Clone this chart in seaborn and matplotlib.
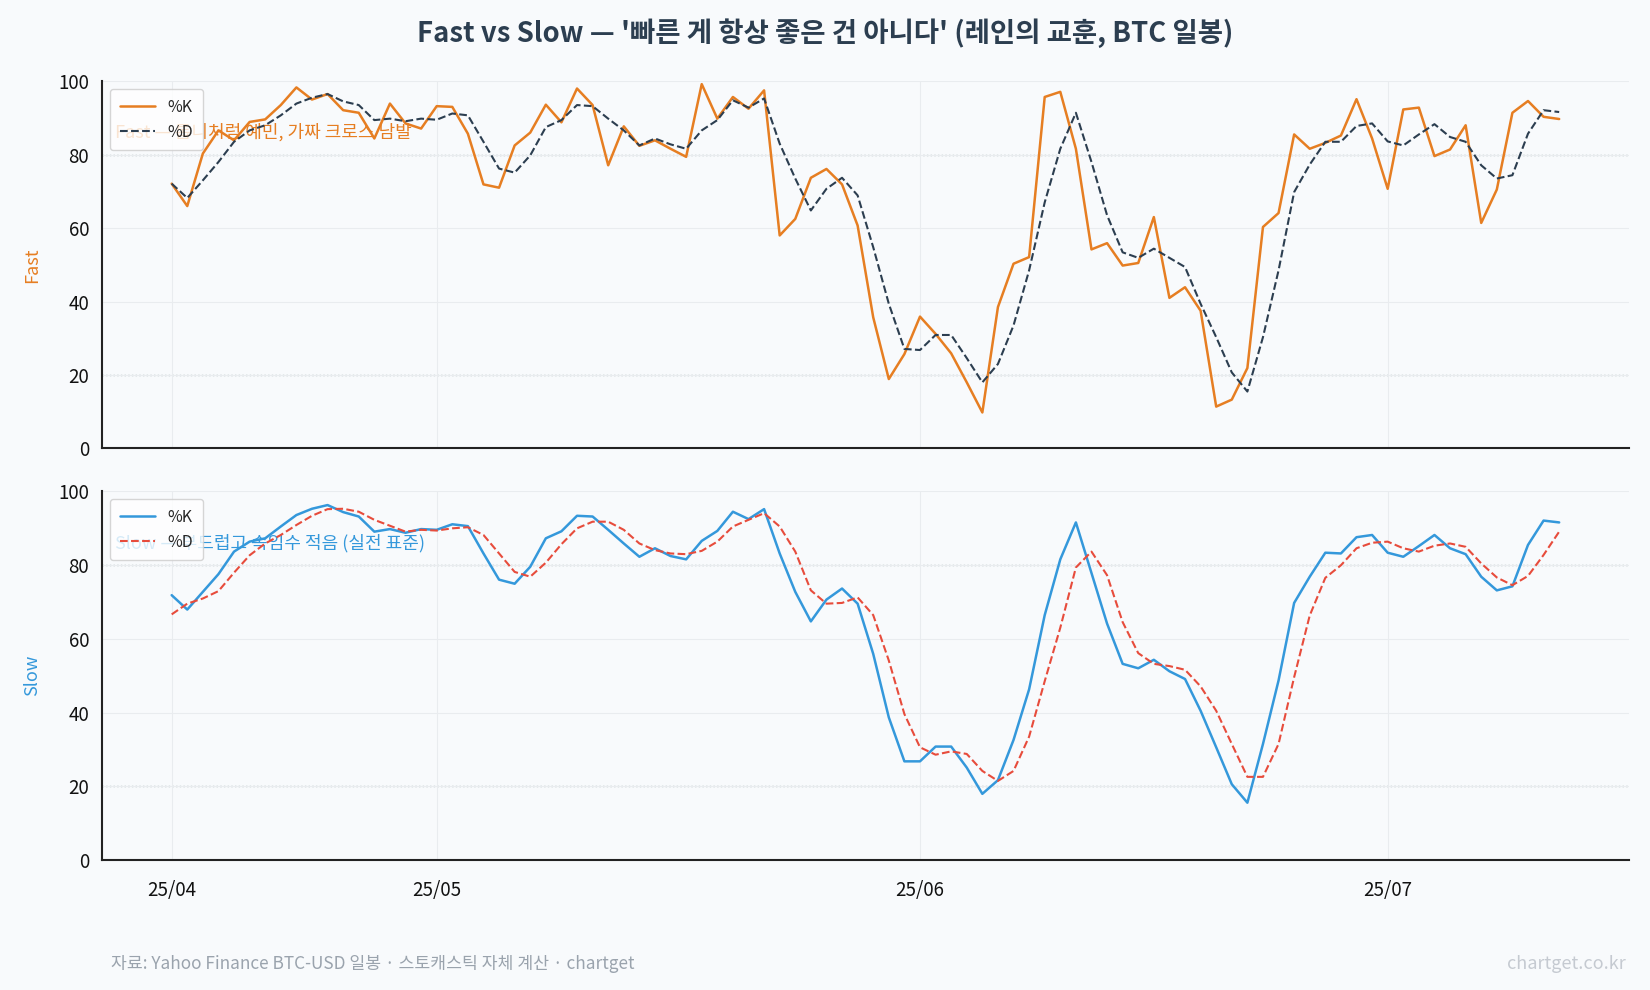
import numpy as np
import pandas as pd
import matplotlib
matplotlib.use("Agg")
import matplotlib.pyplot as plt
import matplotlib.dates as mdates
import seaborn as sns

# ---- data ----
start_date = "2025-04-14"
n_days = 90

fast_k = [72.1, 66.0, 80.3, 86.6, 83.9, 88.9, 89.6, 93.5, 98.3, 95.0,
          96.5, 92.1, 91.4, 84.4, 93.9, 88.5, 87.1, 93.2, 93.0, 85.7,
          71.9, 71.0, 82.5, 86.0, 93.6, 88.8, 98.0, 93.5, 77.1, 87.7,
          82.4, 83.9, 81.6, 79.4, 99.2, 89.8, 95.7, 92.5, 97.5, 58.0,
          62.5, 73.7, 76.1, 71.9, 60.7, 35.7, 18.9, 25.7, 35.9, 31.2,
          25.9, 18.0, 9.8, 38.5, 50.3, 52.1, 95.7, 97.1, 81.6, 54.2,
          55.9, 49.8, 50.5, 63.0, 41.0, 43.9, 37.5, 11.4, 13.3, 21.9,
          60.3, 64.1, 85.5, 81.6, 83.2, 85.2, 95.1, 84.4, 70.7, 92.3,
          92.8, 79.6, 81.4, 88.0, 61.4, 70.5, 91.4, 94.6, 90.3, 89.7]
fast_d = [72.1, 68.2, 73.0, 78.0, 83.5, 86.6, 88.0, 90.7, 93.9, 95.5,
          96.5, 94.5, 93.5, 89.4, 89.8, 89.1, 89.8, 89.5, 91.2, 90.7,
          83.5, 76.2, 75.1, 79.8, 87.5, 89.4, 93.5, 93.2, 89.8, 86.6,
          82.5, 84.4, 82.8, 81.6, 86.6, 89.4, 94.8, 92.8, 95.3, 83.0,
          73.5, 64.8, 70.7, 73.7, 68.9, 54.8, 39.4, 27.1, 26.8, 30.9,
          30.9, 24.6, 18.0, 23.0, 33.5, 48.5, 67.0, 81.6, 91.4, 78.0,
          63.5, 53.4, 51.9, 54.4, 51.9, 49.4, 39.4, 30.3, 20.7, 15.5,
          30.3, 48.5, 69.8, 77.3, 83.5, 83.5, 87.8, 88.5, 83.6, 82.5,
          85.5, 88.3, 84.8, 83.5, 77.1, 73.5, 74.4, 85.7, 92.1, 91.6]
slow_k = [71.8, 67.9, 72.7, 77.5, 83.6, 86.3, 87.2, 90.4, 93.5, 95.2,
          96.2, 94.3, 93.1, 89.0, 89.7, 88.7, 89.7, 89.5, 91.0, 90.5,
          83.1, 76.0, 74.9, 79.5, 87.2, 89.1, 93.3, 93.1, 89.5, 85.8,
          82.2, 84.5, 82.4, 81.5, 86.5, 89.2, 94.4, 92.4, 95.1, 83.1,
          72.7, 64.7, 70.6, 73.6, 69.5, 55.9, 38.7, 26.8, 26.8, 30.8,
          30.8, 25.1, 18.0, 21.7, 32.6, 46.3, 66.4, 81.5, 91.5, 77.8,
          64.1, 53.2, 52.0, 54.3, 51.2, 49.1, 40.5, 30.6, 20.6, 15.6,
          31.5, 48.7, 69.7, 76.8, 83.3, 83.1, 87.5, 88.1, 83.3, 82.2,
          85.1, 88.1, 84.5, 82.9, 76.8, 73.1, 74.2, 85.4, 92.0, 91.5]
slow_d = [66.6, 69.5, 70.9, 72.9, 77.9, 82.6, 85.8, 88.1, 90.8, 93.3,
          95.1, 95.2, 94.4, 92.2, 90.6, 89.0, 89.5, 89.3, 89.9, 90.2,
          88.1, 83.1, 78.1, 76.8, 80.6, 85.6, 89.9, 91.7, 91.7, 89.5,
          85.8, 84.0, 83.1, 82.9, 83.8, 86.3, 90.4, 92.2, 94.0, 90.4,
          83.6, 73.1, 69.5, 69.7, 71.2, 66.4, 54.1, 39.6, 30.6, 28.6,
          29.5, 28.8, 24.2, 21.5, 24.2, 33.5, 48.5, 63.0, 79.3, 83.6,
          77.2, 64.5, 56.1, 53.2, 52.6, 51.6, 47.1, 40.5, 31.5, 22.6,
          22.6, 31.5, 49.6, 66.3, 76.5, 79.9, 84.5, 86.0, 86.3, 84.5,
          83.6, 85.2, 85.8, 84.9, 80.4, 76.6, 74.5, 77.0, 82.7, 89.0]

tick_dates = ["2025-04-14", "2025-05-01", "2025-06-01", "2025-07-01"]

title = "Fast vs Slow — '빠른 게 항상 좋은 건 아니다' (레인의 교훈, BTC 일봉)"
fast_note = "Fast — 톱니처럼 예민, 가짜 크로스 남발"
slow_note = "Slow — 부드럽고 속임수 적음 (실전 표준)"
source_text = "자료: Yahoo Finance BTC-USD 일봉 · 스토캐스틱 자체 계산 · chartget"
brand_text = "chartget.co.kr"

dates = pd.date_range(start_date, periods=n_days, freq="D")
fast = pd.DataFrame({"date": dates, "K": fast_k, "D": fast_d})
slow = pd.DataFrame({"date": dates, "K": slow_k, "D": slow_d})

# ---- style ----
BG = "#f8fafc"
sns.set_theme(style="white")
plt.rcParams["font.family"] = ["Noto Sans CJK KR", "DejaVu Sans"]
plt.rcParams["axes.unicode_minus"] = False

fig = plt.figure(figsize=(16.5, 9.9), dpi=100, facecolor=BG)
ax1 = fig.add_axes([0.062, 0.547, 0.925, 0.371], facecolor=BG)
ax2 = fig.add_axes([0.062, 0.131, 0.925, 0.373], facecolor=BG, sharex=ax1)

panels = [
    (ax1, fast, "Fast", "#e67e22", "#2c3e50", fast_note),
    (ax2, slow, "Slow", "#3498db", "#e74c3c", slow_note),
]

for ax, df, name, kcol, dcol, note in panels:
    sns.lineplot(data=df, x="date", y="K", ax=ax, color=kcol, lw=1.8, label="%K")
    sns.lineplot(data=df, x="date", y="D", ax=ax, color=dcol, lw=1.5,
                 linestyle="--", label="%D")
    for lvl in (20, 80):
        ax.axhline(lvl, color="#95a5a6", lw=1.0, ls=":", zorder=0)
    ax.set_ylim(0, 100)
    ax.set_yticks([0, 20, 40, 60, 80, 100])
    ax.set_ylabel(name, color=kcol, fontsize=13, labelpad=12)
    ax.set_xlabel("")
    ax.grid(True, color="#e9ecef", lw=0.8)
    ax.set_axisbelow(True)
    sns.despine(ax=ax)
    for s in ("left", "bottom"):
        ax.spines[s].set_color("#222222")
        ax.spines[s].set_linewidth(1.5)
    ax.tick_params(axis="both", labelsize=13.5, length=6, width=1.2,
                   color="#222222", labelcolor="#111111")
    ax.text(0.008, 0.86, note, transform=ax.transAxes, color=kcol,
            fontsize=13, va="center", ha="left", zorder=1)
    leg = ax.legend(loc="upper left", fontsize=11.5, frameon=True,
                    borderpad=0.6, handlelength=2.2)
    leg.get_frame().set_facecolor("white")
    leg.get_frame().set_edgecolor("#cccccc")
    leg.get_frame().set_alpha(0.8)
    leg.set_zorder(5)

ax1.set_xticks(pd.to_datetime(tick_dates))
ax1.xaxis.set_major_formatter(mdates.DateFormatter("%y/%m"))
plt.setp(ax1.get_xticklabels(), visible=False)
ax1.margins(x=0.05)
ax2.tick_params(axis="x", pad=8)

fig.suptitle(title, fontsize=19.8, fontweight="bold", color="#2c3e50",
             y=0.967, va="center")
fig.text(0.067, 0.026, source_text, fontsize=12.4, color="#9aa3ad", ha="left", va="center")
fig.text(0.985, 0.026, brand_text, fontsize=13, color="#c5cad1", ha="right", va="center")

fig.savefig("out.png", dpi=100, facecolor=BG)
